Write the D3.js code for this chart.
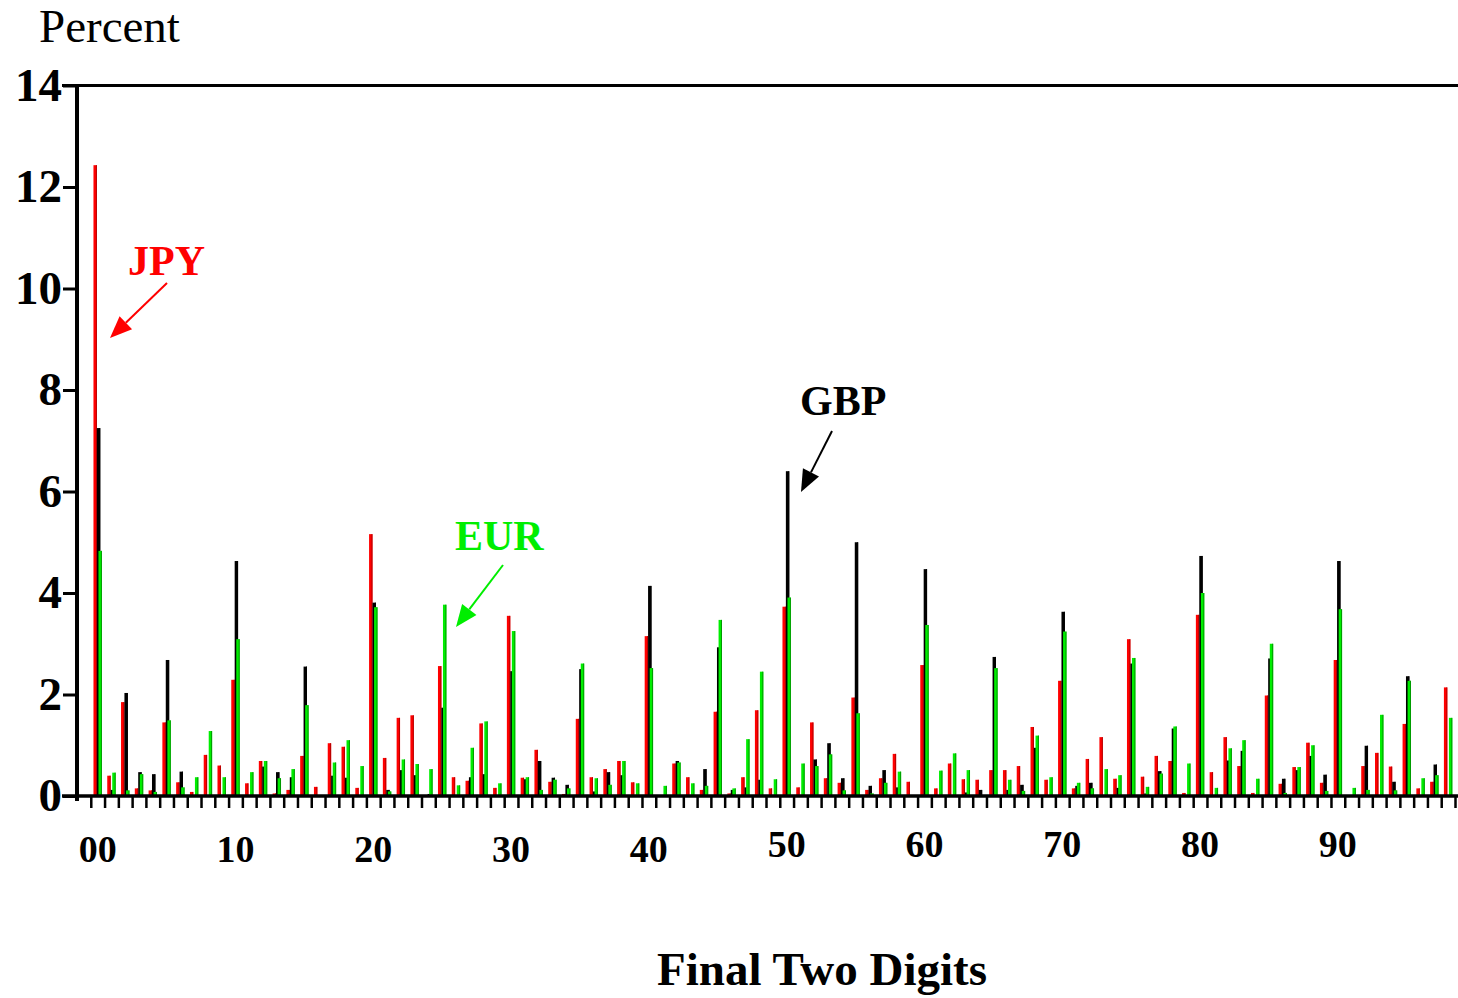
<!DOCTYPE html>
<html><head><meta charset="utf-8">
<script src="https://cdn.jsdelivr.net/npm/d3@7/dist/d3.min.js"></script>
<style>html,body{margin:0;padding:0;background:#fff;}svg{display:block;}</style>
</head><body>
<svg id="c" width="1458" height="998"></svg>
<script>
// ---- data ----
const digits = ["00","01","02","03","04","05","06","07","08","09","10","11","12","13","14","15","16","17","18","19","20","21","22","23","24","25","26","27","28","29","30","31","32","33","34","35","36","37","38","39","40","41","42","43","44","45","46","47","48","49","50","51","52","53","54","55","56","57","58","59","60","61","62","63","64","65","66","67","68","69","70","71","72","73","74","75","76","77","78","79","80","81","82","83","84","85","86","87","88","89","90","91","92","93","94","95","96","97","98"];
const jpy = [12.43,0.40,1.85,0.15,0.11,1.45,0.27,0.08,0.81,0.60,
2.29,0.25,0.69,0.05,0.12,0.79,0.18,1.04,0.97,0.16,
5.16,0.75,1.54,1.59,0,2.56,0.37,0.30,1.43,0.16,
3.55,0.36,0.91,0.28,0.04,1.52,0.37,0.53,0.69,0.27,
3.15,0,0.64,0.37,0.12,1.66,0.05,0.37,1.69,0.15,
3.73,0.17,1.45,0.35,0.26,1.94,0.12,0.35,0.83,0.28,
2.58,0.15,0.64,0.33,0.32,0.51,0.51,0.59,1.36,0.32,
2.27,0.15,0.73,1.16,0.34,3.09,0.38,0.79,0.69,0.06,
3.57,0.47,1.16,0.59,0.06,1.98,0.24,0.57,1.05,0.26,
2.68,0,0.59,0.85,0.58,1.42,0.15,0.28,2.14];
const gbp = [7.25,0.12,2.03,0.47,0.43,2.68,0.48,0,0,0,
4.63,0,0.58,0.47,0.37,2.55,0,0.40,0.36,0,
3.81,0.12,0.51,0.41,0.04,1.74,0,0.37,0.43,0,
2.46,0.33,0.69,0.36,0.22,2.50,0.09,0.47,0.41,0,
4.14,0,0.69,0,0.53,2.93,0.12,0.17,0.32,0,
6.40,0,0.72,1.04,0.35,5.00,0.20,0.51,0.17,0,
4.47,0,0,0.07,0.12,2.74,0.12,0.22,0.95,0,
3.63,0.20,0.26,0,0.16,2.61,0.05,0.49,1.33,0,
4.73,0,0.70,0.89,0,2.71,0.34,0.51,0.79,0.42,
4.63,0,0.99,0,0.28,2.36,0,0.62,0];
const eur = [4.83,0.46,0.11,0.43,0.08,1.49,0.17,0.37,1.28,0.37,
3.09,0.47,0.69,0.35,0.53,1.79,0,0.66,1.10,0.59,
3.72,0.09,0.72,0.63,0.53,3.77,0.21,0.95,1.47,0.25,
3.25,0.37,0.12,0.32,0.15,2.61,0.35,0.22,0.69,0.25,
2.52,0.20,0.66,0.25,0.20,3.47,0.15,1.12,2.45,0.33,
3.91,0.64,0.59,0.82,0.11,1.63,0.05,0.26,0.48,0,
3.37,0.50,0.84,0.51,0,2.52,0.32,0.10,1.19,0.37,
3.24,0.26,0.15,0.53,0.41,2.72,0.18,0.44,1.37,0.64,
4.00,0.16,0.94,1.10,0.34,3.00,0.06,0.57,1.00,0.10,
3.68,0.16,0.12,1.60,0.11,2.27,0.35,0.41,1.54];
const yTicks = [0,2,4,6,8,10,12,14];
const xLabels = ["00","10","20","30","40","50","60","70","80","90"];
const seriesNames = ["JPY","GBP","EUR"];

// ---- styles ----
const FONT = "'Liberation Serif','Times New Roman',Times,serif";
const RED = "#ff0000", BLACK = "#000000", GREEN = "#00ee00";
const series = [
  {name:"JPY", values:jpy, fill:RED,   edge:"#b40000", off:-4.2},
  {name:"GBP", values:gbp, fill:BLACK, edge:"#000000", off:-0.8},
  {name:"EUR", values:eur, fill:GREEN, edge:"#009a00", off:0.8}
];
const BW = 3.4;

const svg = d3.select("#c");
svg.append("rect").attr("width",1458).attr("height",998).attr("fill","#fff");

const step = 13.78;
const x = d3.scaleLinear().domain([-1, 99]).range([77, 77 + 100*step]);
const y = d3.scaleLinear().domain([0, 14]).range([796, 85.5]);

// bars
series.forEach(s => {
  const g = svg.append("g");
  g.selectAll("rect.b").data(s.values.map((v,i)=>({v,i}))).join("rect")
    .attr("class","b")
    .attr("x", d => x(d.i + 0.5) + s.off)
    .attr("width", BW)
    .attr("y", d => y(d.v))
    .attr("height", d => y(0) - y(d.v))
    .attr("fill", s.fill);
  g.selectAll("rect.e").data(s.values.map((v,i)=>({v,i}))).join("rect")
    .attr("class","e")
    .attr("x", d => x(d.i + 0.5) + s.off + BW - 1)
    .attr("width", 1)
    .attr("y", d => y(d.v))
    .attr("height", d => y(0) - y(d.v))
    .attr("fill", s.edge);
});

// top frame line
svg.append("line").attr("x1",62).attr("x2",1458).attr("y1",y(14)).attr("y2",y(14))
  .attr("stroke","#000").attr("stroke-width",3);

// y axis
const yAxis = svg.append("g").attr("transform","translate(77,0)")
  .call(d3.axisLeft(y).tickValues(yTicks).tickSize(14).tickFormat(""));
yAxis.select(".domain").remove();
yAxis.selectAll(".tick line").attr("stroke","#000").attr("stroke-width",3);
svg.append("line").attr("x1",77).attr("x2",77).attr("y1",y(14)-1).attr("y2",801)
  .attr("stroke","#000").attr("stroke-width",4);
svg.selectAll("text.yl").data(yTicks).join("text").attr("class","yl")
  .attr("x",62).attr("y",d=>y(d)+15).attr("text-anchor","end")
  .attr("font-family",FONT).attr("font-weight","bold").attr("font-size",47)
  .text(d=>d);

// x axis
const xAxis = svg.append("g").attr("transform","translate(0,796)")
  .call(d3.axisBottom(x).tickValues(d3.range(0,100)).tickSize(12).tickFormat(""));
xAxis.select(".domain").remove();
xAxis.selectAll(".tick line").attr("stroke","#000").attr("stroke-width",2.5);
svg.append("line").attr("x1",62).attr("x2",1458).attr("y1",796).attr("y2",796)
  .attr("stroke","#000").attr("stroke-width",3.5);
svg.selectAll("text.xl").data(xLabels).join("text").attr("class","xl")
  .attr("x",(d,i)=> x(+d + 0.5)).attr("y",(d,i)=> i<5 ? 862 : 857)
  .attr("text-anchor","middle")
  .attr("font-family",FONT).attr("font-weight","bold").attr("font-size",38)
  .text(d=>d);

// titles
svg.append("text").attr("x",39).attr("y",42).attr("font-family",FONT)
  .attr("font-size",47).text("Percent");
svg.append("text").attr("x",822).attr("y",985).attr("text-anchor","middle")
  .attr("font-family",FONT).attr("font-weight","bold").attr("font-size",47)
  .text("Final Two Digits");

// annotations
function arrow(x1,y1,x2,y2,color){
  const ang = Math.atan2(y2-y1,x2-x1), L=22, Wd=9;
  const bx = x2 - L*Math.cos(ang), by = y2 - L*Math.sin(ang);
  svg.append("line").attr("x1",x1).attr("y1",y1).attr("x2",bx).attr("y2",by)
    .attr("stroke",color).attr("stroke-width",2);
  const px = -Math.sin(ang), py = Math.cos(ang);
  svg.append("path").attr("d",`M${x2},${y2}L${bx+px*Wd},${by+py*Wd}L${bx-px*Wd},${by-py*Wd}Z`)
    .attr("fill",color);
}
const ann = [
  {t:seriesNames[0], c:RED,   tx:128, ty:275, a:[167,283,110,338]},
  {t:seriesNames[1], c:BLACK, tx:800, ty:415, a:[832,431,801,492]},
  {t:seriesNames[2], c:GREEN, tx:455, ty:550, a:[503,565,456,627]}
];
ann.forEach(a=>{
  svg.append("text").attr("x",a.tx).attr("y",a.ty).attr("font-family",FONT)
    .attr("font-weight","bold").attr("font-size",42).attr("fill",a.c).text(a.t);
  arrow(...a.a, a.c);
});
</script>
</body></html>
